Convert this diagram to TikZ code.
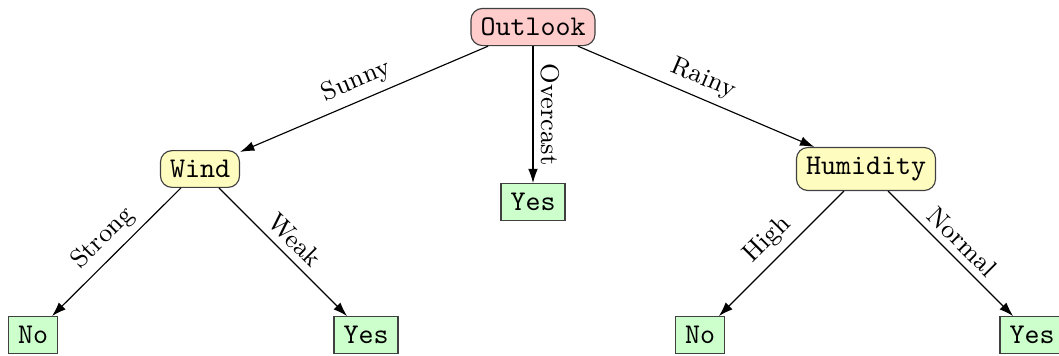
\documentclass[tikz,border=0pt]{standalone}
\usetikzlibrary{arrows.meta}
\begin{document}
\begin{tikzpicture}[x=0.35pt,y=-0.35pt,
  decision/.style={draw=black!75,rounded corners=4pt,font=\ttfamily},
  rootnode/.style={decision,fill=red!20},
  inner/.style={decision,fill=yellow!25},
  leaf/.style={draw=black!75,fill=green!20,font=\ttfamily},
  branch/.style={-{Latex[length=5pt,width=3.4pt]},black},
  lbl/.style={midway,above,sloped,inner sep=2.5pt,font=\small}]
\useasboundingbox (0,0) rectangle (1059,355);
% internal decision nodes
\node[rootnode] (outlook) at (533,27) {Outlook};
\node[inner] (wind) at (200,169) {Wind};
\node[inner] (humidity) at (866,169) {Humidity};
% leaves
\node[leaf] (yesO) at (533,202) {Yes};
\node[leaf] (noW) at (33,335) {No};
\node[leaf] (yesW) at (366,335) {Yes};
\node[leaf] (noH) at (700,335) {No};
\node[leaf] (yesH) at (1032,335) {Yes};
% branches
\draw[branch] (outlook) -- node[lbl] {Sunny} (wind);
\draw[branch] (outlook) -- node[lbl] {Overcast} (yesO);
\draw[branch] (outlook) -- node[lbl] {Rainy} (humidity);
\draw[branch] (wind) -- node[lbl] {Strong} (noW);
\draw[branch] (wind) -- node[lbl] {Weak} (yesW);
\draw[branch] (humidity) -- node[lbl] {High} (noH);
\draw[branch] (humidity) -- node[lbl] {Normal} (yesH);
\end{tikzpicture}
\end{document}
